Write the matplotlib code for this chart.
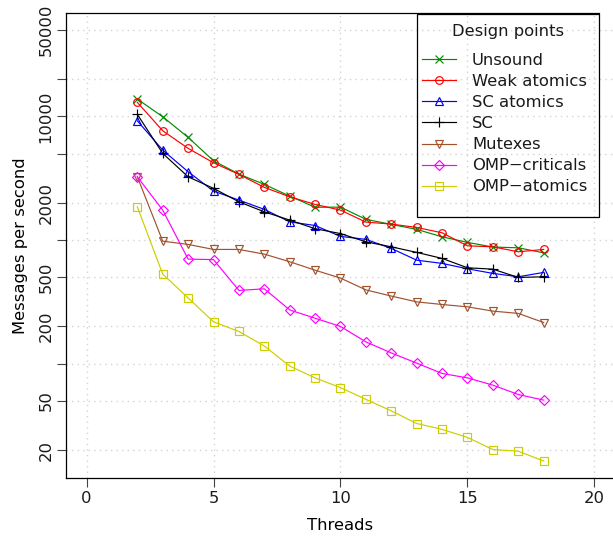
import numpy as np
import matplotlib
matplotlib.use("Agg")
import matplotlib.pyplot as plt
from matplotlib.patches import Rectangle
from matplotlib.ticker import NullLocator

# throughput per design point, 2..18 threads
threads = list(range(2, 19))
unsound = [13800, 9930, 6760, 4375, 3413, 2818, 2265, 1840, 1845, 1470, 1337, 1219, 1061, 957, 877, 865, 787]
weak_atomics = [12980, 7650, 5510, 4215, 3395, 2665, 2236, 1941, 1745, 1396, 1345, 1264, 1143, 897, 881, 803, 839]
sc_atomics = [9205, 5335, 3565, 2487, 2103, 1769, 1403, 1310, 1069, 1012, 855, 687, 647, 585, 537, 504, 547]
sc = [10380, 5020, 3245, 2616, 2037, 1690, 1449, 1234, 1127, 967, 881, 794, 710, 596, 581, 498, 504]
mutexes = [3245, 979, 921, 839, 839, 769, 667, 570, 492, 395, 352, 316, 301, 288, 266, 255, 215]
omp_criticals = [3245, 1745, 701, 694, 391, 403, 272, 233, 200, 150, 122, 101, 83.3, 76.7, 67.0, 56.3, 50.7]
omp_atomics = [1857, 530, 340, 218, 182, 139, 95.5, 76.7, 64.0, 51.4, 41.5, 32.8, 29.4, 25.3, 20.2, 19.6, 16.3]

labels = ["Unsound", "Weak atomics", "SC atomics", "SC", "Mutexes",
          "OMP\u2212criticals", "OMP\u2212atomics"]
colors = ["#008B00", "#FF0000", "#0000FF", "#000000", "#A0522D", "#FF00FF", "#CDCD00"]
markers = ["x", "o", "^", "+", "v", "D", "s"]
sizes = [5.5, 5.5, 6.0, 7.5, 6.0, 5.0, 5.3]

yticks = [20, 50, 100, 200, 500, 1000, 2000, 5000, 10000, 20000, 50000]
ytick_labels = ["20", "50", "", "200", "500", "", "2000", "", "10000", "", "50000"]

plt.rcParams["font.family"] = "DejaVu Sans"
plt.rcParams["font.size"] = 11.8
plt.rcParams["text.color"] = "#1a1a1a"
plt.rcParams["xtick.labelcolor"] = "#1a1a1a"
plt.rcParams["ytick.labelcolor"] = "#1a1a1a"

W, H = 613, 538
fig = plt.figure(figsize=(W / 100, H / 100), dpi=100)
ax = fig.add_axes([66.2 / W, 59.7 / H, 548.6 / W, 465.6 / H])

series = [unsound, weak_atomics, sc_atomics, sc, mutexes, omp_criticals, omp_atomics]
for vals, lab, col, mk, ms in zip(series, labels, colors, markers, sizes):
    ax.plot(threads, vals, color=col, marker=mk, mfc="none", mec=col,
            ms=ms, mew=0.85, lw=0.85, label=lab)

ax.set_yscale("log")
ax.set_xlim(-0.8, 20.8)
# y range from data minimum up to 50000, padded 4% like R
lo, hi = np.log10(min(min(s) for s in series)), np.log10(50000)
pad = 0.04 * (hi - lo)
ax.set_ylim(10 ** (lo - pad), 10 ** (hi + pad))

ax.set_xticks([0, 5, 10, 15, 20])
ax.set_yticks(yticks)
ax.set_yticklabels(ytick_labels, rotation=90, va="center")
ax.yaxis.set_minor_locator(NullLocator())
ax.tick_params(direction="out", length=6.5, width=0.8, pad=2.5, labelsize=11.8,
               color="#444444")

ax.grid(True, color="#D3D3D3", linestyle=(0, (1, 3)), linewidth=1.0)
ax.set_axisbelow(True)

for s in ax.spines.values():
    s.set_linewidth(0.9)
ax.spines["top"].set_bounds(-0.8, 20.16)

ax.set_xlabel("Threads", labelpad=9)
ax.set_ylabel("Messages per second", labelpad=8)

# legend: entries without frame, box and title drawn separately
leg = ax.legend(loc="upper left", bbox_to_anchor=(421.7 / W, 1 - 53.0 / H),
                bbox_transform=fig.transFigure, frameon=False, borderpad=0,
                borderaxespad=0, handlelength=2.07, handletextpad=1.0,
                labelspacing=0.37, fontsize=11.8)
fig.add_artist(Rectangle((417 / W, 1 - 217 / H), 182 / W, 203.5 / H,
                         transform=fig.transFigure, fill=False,
                         edgecolor="black", linewidth=0.9))
fig.text(508 / W, 1 - 31.7 / H, "Design points", ha="center", va="center",
         fontsize=11.8)

fig.savefig("out.png", dpi=100)
